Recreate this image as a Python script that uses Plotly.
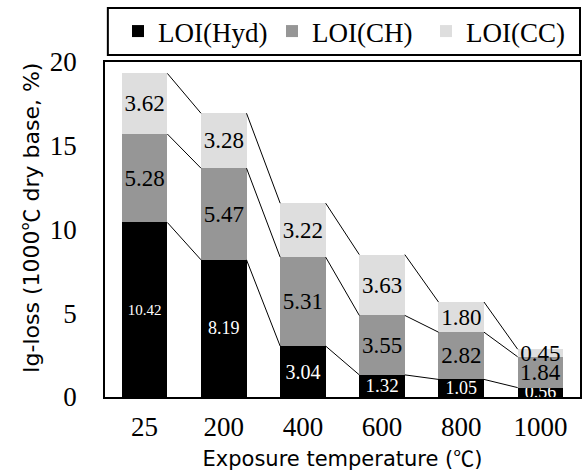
import plotly.graph_objects as go
import numpy as np

temps = ["25", "200", "400", "600", "800", "1000"]
loi_hyd = [10.42, 8.19, 3.04, 1.32, 1.05, 0.56]
loi_ch = [5.28, 5.47, 5.31, 3.55, 2.82, 1.84]
loi_cc = [3.62, 3.28, 3.22, 3.63, 1.80, 0.45]
series_names = ["LOI(Hyd)", "LOI(CH)", "LOI(CC)"]
colors = ["#000000", "#969696", "#dedede"]
label_colors = ["white", "black", "black"]
label_sizes = [[15, 18, 20, 19, 18, 18], 23, 23]

SERIF = "Liberation Serif"
SANS = "DejaVu Sans"
CJK = "Noto Sans CJK KR"
DEG = f'<span style="font-family:{CJK}">℃</span>'

x = np.arange(len(temps))
bw = 0.575

fig = go.Figure()
cum = np.zeros(len(temps))
tops = []
for vals, name, col, lc, ls in zip([loi_hyd, loi_ch, loi_cc], series_names, colors, label_colors, label_sizes):
    fig.add_trace(go.Bar(
        x=x, y=vals, name=name, width=bw,
        marker=dict(color=col, line=dict(width=0)),
        text=[f"{v:.2f}" for v in vals],
        textposition="inside", insidetextanchor="middle", textangle=0,
        constraintext="none",
        textfont=dict(family=SERIF, size=ls, color=lc),
        hoverinfo="skip",
    ))
    cum = cum + np.array(vals)
    tops.append(cum.copy())

for t in tops:
    xs, ys = [], []
    for i in range(len(temps) - 1):
        xs += [x[i] + bw / 2, x[i + 1] - bw / 2, None]
        ys += [t[i], t[i + 1], None]
    fig.add_trace(go.Scatter(x=xs, y=ys, mode="lines", line=dict(color="black", width=1),
                             showlegend=False, hoverinfo="skip"))

fig.update_layout(
    width=582, height=472,
    margin=dict(l=105, r=2, t=62, b=75, autoexpand=False),
    barmode="stack",
    plot_bgcolor="white", paper_bgcolor="white",
    showlegend=True,
    legend=dict(orientation="h", x=1.0, xanchor="right", y=1.091, yanchor="middle",
                font=dict(family=SERIF, size=27, color="black"), itemwidth=30,
                entrywidth=109, entrywidthmode="pixels",
                traceorder="normal", bgcolor="rgba(0,0,0,0)"),
    shapes=[dict(type="rect", xref="paper", yref="paper", x0=0.006, x1=1, y0=1.021, y1=1.161,
                 line=dict(color="black", width=2))],
    annotations=[dict(text=f"Ig-loss (1000{DEG} dry base, %)", textangle=-90,
                      xref="paper", yref="paper", x=-0.16, y=(397 - 218) / 335,
                      xanchor="center", yanchor="middle", showarrow=False,
                      font=dict(family=SANS, size=22, color="black"))],
)
fig.update_xaxes(range=[-0.5, len(temps) - 0.5], tickvals=x, ticktext=temps,
                 showline=True, mirror=True, linecolor="black", linewidth=1.5,
                 showgrid=False, zeroline=False, ticks="", ticklabelstandoff=5,
                 tickfont=dict(family=SERIF, size=27, color="black"),
                 title=dict(text=f"Exposure temperature ({DEG})", standoff=0,
                            font=dict(family=SANS, size=21, color="black")))
fig.update_yaxes(range=[0, 20], tickvals=[0, 5, 10, 15, 20],
                 showline=True, mirror=True, linecolor="black", linewidth=1.5,
                 showgrid=False, zeroline=False, ticks="", ticklabelstandoff=21,
                 tickfont=dict(family=SERIF, size=27, color="black"))

fig.write_html("out.html")
